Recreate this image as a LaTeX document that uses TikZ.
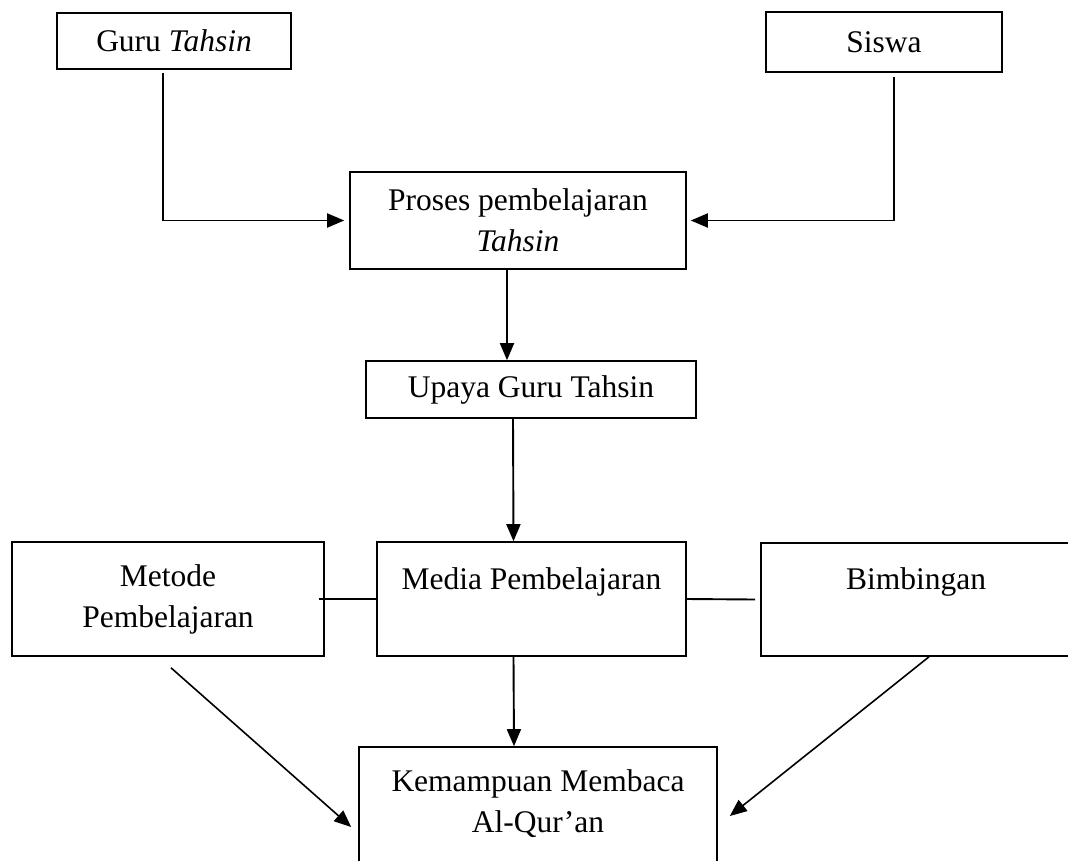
\documentclass[tikz,border=0pt]{standalone}
\usepackage{fontspec}
\setmainfont{Liberation Serif}
\usetikzlibrary{arrows.meta}
\usetikzlibrary{positioning}
\tikzset{
	box/.style={draw, line width=1.6pt, align=center, inner sep=0pt},
	link/.style={line width=1.9pt, arrows={-Triangle[length=17pt,width=14pt]}},
	plain/.style={line width=1.9pt},
}

\begin{document}
\begin{tikzpicture}[x=1pt, y=-1pt, font=\fontsize{31.5}{41}\selectfont]
		\clip (0, 0) rectangle (1068, 860);
		\node[box, minimum width=234, minimum height=56] (guru) at (174, 41) {Guru \textit{Tahsin}};
		\node[box, minimum width=236, minimum height=60] (siswa) at (884, 42) {Siswa};
		\node[box, minimum width=336, minimum height=97] (proses) at (518, 220.5) {Proses pembelajaran\\\textit{Tahsin}};
		\node[box, minimum width=330, minimum height=57] (upaya) at (531, 389.5) {Upaya Guru Tahsin};
		\node[box, minimum width=312, minimum height=114] (metode) at (168, 599) {Metode\\Pembelajaran};
		\node[box, minimum width=309, minimum height=114] (media) at (531.5, 599) {Media Pembelajaran\\\mbox{}};
		\node[box, minimum width=310, minimum height=113] (bimbingan) at (916, 599.5) {Bimbingan\\\mbox{}};
		\node[box, minimum width=358, minimum height=150] (kemampuan) at (538, 822) {Kemampuan Membaca\\Al-Qur’an\\\mbox{}};
		\coordinate (gurutail) at (163, 73);
		\coordinate (siswatail) at (894, 77);
		\draw[link] (gurutail) |- ([xshift=-5pt]proses.west);
		\draw[link] (siswatail) |- ([xshift=4pt]proses.east);
		\draw[link] ([xshift=-11pt]proses.south) -- ([xshift=-24pt]upaya.north);
		\draw[link] ([xshift=-18pt]upaya.south) -- ([xshift=-18pt]media.north);
		\draw[link] ([xshift=-18pt]media.south) -- ([xshift=-24pt]kemampuan.north);
		\draw[plain] ([xshift=-6pt]metode.east) -- (media.west);
		\draw[plain] (media.east) -- ([xshift=-5pt]bimbingan.west);
		\draw[link, line width=1.6pt] ([xshift=3pt, yshift=-11pt]metode.south) -- ([xshift=-7pt, yshift=-5pt]kemampuan.west);
		\draw[link, line width=1.6pt] ([xshift=13pt]bimbingan.south) -- ([xshift=12pt, yshift=6pt]kemampuan.east);
	\end{tikzpicture}
\end{document}
